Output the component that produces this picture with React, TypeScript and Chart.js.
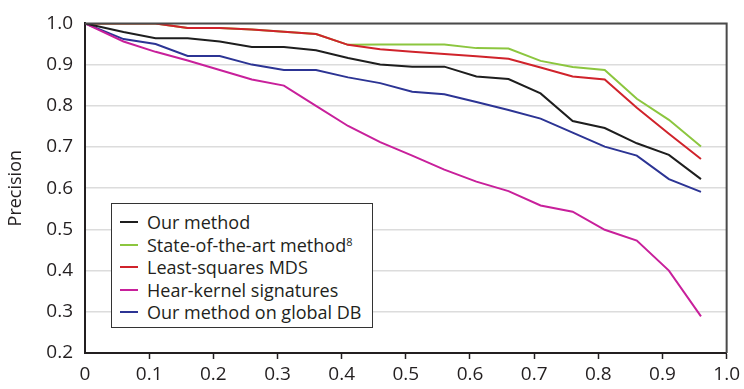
import React, { useEffect, useRef } from "react";
import { Chart, registerables } from "chart.js";

Chart.register(...registerables);

const recall = [0, 0.06, 0.11, 0.16, 0.21, 0.26, 0.31, 0.36, 0.41, 0.46, 0.51, 0.56, 0.61, 0.66, 0.71, 0.76, 0.81, 0.86, 0.91, 0.96];

const ourMethod = [1.0, 0.979, 0.964, 0.964, 0.956, 0.943, 0.943, 0.935, 0.916, 0.9, 0.895, 0.895, 0.871, 0.865, 0.83, 0.763, 0.746, 0.709, 0.681, 0.622];
const stateOfArt = [1.0, 1.0, 1.0, 0.989, 0.989, 0.985, 0.98, 0.974, 0.948, 0.949, 0.949, 0.949, 0.94, 0.939, 0.909, 0.894, 0.887, 0.817, 0.766, 0.701];
const leastSquaresMDS = [1.0, 1.0, 1.0, 0.989, 0.989, 0.985, 0.98, 0.974, 0.948, 0.937, 0.931, 0.926, 0.92, 0.914, 0.893, 0.871, 0.864, 0.795, 0.732, 0.671];
const heatKernel = [1.0, 0.956, 0.931, 0.91, 0.887, 0.864, 0.849, 0.8, 0.751, 0.712, 0.679, 0.645, 0.616, 0.593, 0.558, 0.543, 0.499, 0.473, 0.4, 0.289];
const ourGlobalDB = [1.0, 0.962, 0.95, 0.921, 0.921, 0.9, 0.887, 0.887, 0.869, 0.855, 0.834, 0.828, 0.809, 0.79, 0.769, 0.735, 0.701, 0.679, 0.622, 0.591];

const seriesLabels = ["Our method", "State-of-the-art method", "Least-squares MDS", "Hear-kernel signatures", "Our method on global DB"];
const seriesSup = ["", "8", "", "", ""];
const seriesValues = [ourMethod, stateOfArt, leastSquaresMDS, heatKernel, ourGlobalDB];
const seriesColors = ["#1e1e1e", "#8cc63f", "#d0232b", "#c8209b", "#2c3494"];
const seriesOrder = [0, 2, 1, 0, 0];

const yAxisTitle = "Precision";

const FONT = "'Open Sans', 'Noto Sans', sans-serif";

const frameBorder = {
  id: "frameBorder",
  afterDatasetsDraw(chart: any) {
    const { ctx, chartArea } = chart;
    ctx.save();
    ctx.strokeStyle = "#4a4a4a";
    ctx.lineWidth = 2;
    ctx.beginPath();
    ctx.moveTo(chartArea.left, chartArea.top);
    ctx.lineTo(chartArea.right, chartArea.top);
    ctx.lineTo(chartArea.right, chartArea.bottom);
    ctx.stroke();
    ctx.restore();
  },
};

export default function App() {
  const ref = useRef<HTMLCanvasElement | null>(null);

  useEffect(() => {
    if (!ref.current) return;
    const datasets = seriesValues.map((vals, i) => ({
      label: seriesLabels[i] + (seriesSup[i] ? "⁸" : ""),
      data: vals.map((v, j) => ({ x: recall[j], y: v })),
      borderColor: seriesColors[i],
      backgroundColor: seriesColors[i],
      borderWidth: 2,
      pointRadius: 0,
      tension: 0,
      fill: false,
      order: seriesOrder[i],
    }));
    const chart = new Chart(ref.current, {
      type: "line",
      data: { datasets },
      options: {
        animation: false,
        responsive: false,
        maintainAspectRatio: false,
        layout: { padding: { left: 0, top: 15, right: 17, bottom: 0 } },
        plugins: {
          legend: { display: false },
          tooltip: { enabled: false },
        },
        scales: {
          x: {
            type: "linear",
            min: 0,
            max: 1,
            ticks: {
              stepSize: 0.1,
              color: "#231f20",
              font: { family: FONT, size: 19 },
              padding: 4,
              callback: (v: any) => (Number(v) === 0 ? "0" : Number(v).toFixed(1)),
            },
            grid: {
              drawOnChartArea: false,
              drawTicks: true,
              tickLength: 6,
              tickWidth: 1.5,
              tickColor: (c: any) => (c.index === 0 ? "rgba(0,0,0,0)" : "#231f20"),
            },
            border: { color: "#231f20", width: 2 },
            afterFit: (s: any) => {
              s.height = 36;
            },
          },
          y: {
            type: "linear",
            min: 0.2,
            max: 1.0,
            ticks: {
              stepSize: 0.1,
              color: "#231f20",
              font: { family: FONT, size: 19 },
              padding: 12,
              callback: (v: any) => Number(v).toFixed(1),
            },
            grid: {
              color: "#dcdcdc",
              lineWidth: 1.5,
              drawTicks: false,
            },
            border: { color: "#231f20", width: 2 },
            title: {
              display: true,
              text: yAxisTitle,
              color: "#231f20",
              font: { family: FONT, size: 18 },
              padding: { top: 5, bottom: 0 },
            },
            afterFit: (s: any) => {
              s.width = 85;
            },
          },
        },
      },
      plugins: [frameBorder],
    });
    return () => chart.destroy();
  }, []);

  return (
    <div style={{ position: "absolute", left: 0, top: 0, width: 744, height: 389, background: "#fff" }}>
      <canvas ref={ref} width={744} height={389} style={{ display: "block", width: 744, height: 389 }} />
      <div
        style={{
          position: "absolute",
          left: 111,
          top: 203,
          width: 262,
          height: 125,
          boxSizing: "border-box",
          border: "1.5px solid #333",
          background: "#fff",
          fontFamily: FONT,
          fontSize: 18,
          color: "#231f20",
          paddingTop: 7,
        }}
      >
        {seriesLabels.map((lab, i) => (
          <div key={i} style={{ display: "flex", alignItems: "center", height: 22.5, whiteSpace: "nowrap" }}>
            <span style={{ display: "inline-block", width: 18, height: 2, background: seriesColors[i], marginLeft: 8, marginRight: 9 }} />
            <span>
              {lab}
              {seriesSup[i] ? <sup style={{ fontSize: 11, verticalAlign: "top", position: "relative", top: 1 }}>{seriesSup[i]}</sup> : null}
            </span>
          </div>
        ))}
      </div>
    </div>
  );
}
